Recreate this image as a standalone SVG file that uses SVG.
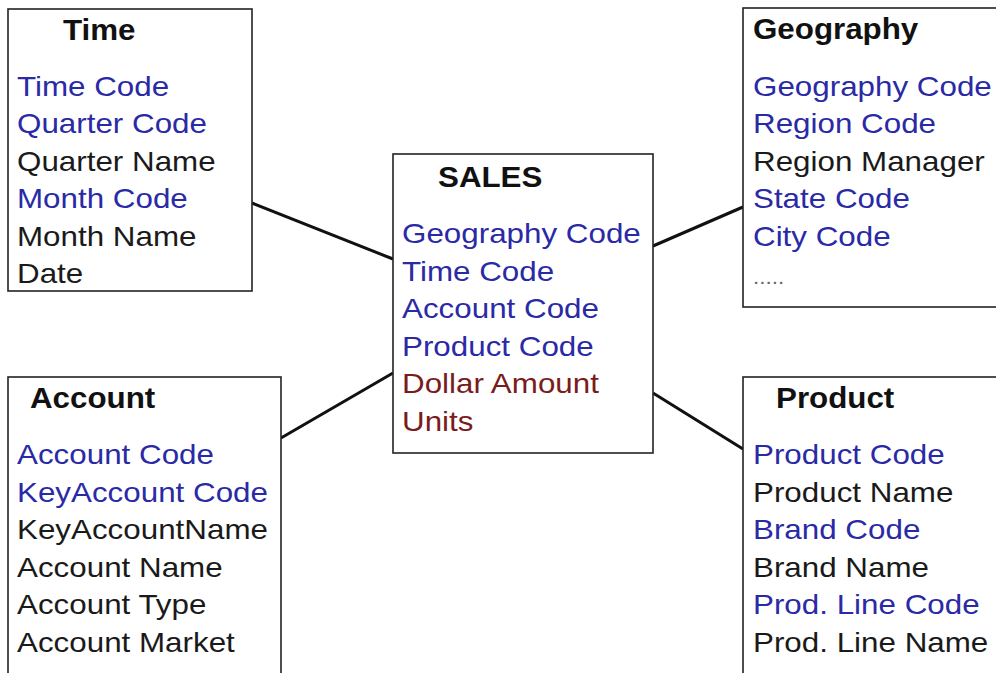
<svg xmlns="http://www.w3.org/2000/svg" width="996" height="673" viewBox="0 0 996 673">
<style>
.box{fill:#fff;stroke:#222;stroke-width:1.6}
.t{font-family:"Liberation Sans",Arial,sans-serif;font-weight:bold;font-size:29px;fill:#111}
.f{font-family:"Liberation Sans",Arial,sans-serif;font-size:28px}
.k{fill:#2a2aa6}
.n{fill:#1a1a1a}
.m{fill:#7a1c1c}
.conn line{stroke:#111;stroke-width:3}
</style>
<rect width="996" height="673" fill="#fff"/>
<g id="connectors" class="conn">
<line x1="252" y1="203" x2="393" y2="259"/>
<line x1="281" y1="438" x2="393" y2="373"/>
<line x1="653" y1="246" x2="743" y2="207"/>
<line x1="653" y1="393" x2="743" y2="449"/>
</g>
<g id="time">
<rect class="box" x="8" y="9" width="244" height="282"/>
<text class="t" transform="matrix(1.08 0 0 1 63 40)">Time</text>
<text class="f k" transform="matrix(1.12 0 0 1 17 96)">Time Code</text>
<text class="f k" transform="matrix(1.12 0 0 1 17 133)">Quarter Code</text>
<text class="f n" transform="matrix(1.12 0 0 1 17 171)">Quarter Name</text>
<text class="f k" transform="matrix(1.12 0 0 1 17 208)">Month Code</text>
<text class="f n" transform="matrix(1.12 0 0 1 17 246)">Month Name</text>
<text class="f n" transform="matrix(1.12 0 0 1 17 283)">Date</text>
</g>
<g id="sales">
<rect class="box" x="393" y="154" width="260" height="299"/>
<text class="t" transform="matrix(1.08 0 0 1 438 187)">SALES</text>
<text class="f k" transform="matrix(1.12 0 0 1 402 243)">Geography Code</text>
<text class="f k" transform="matrix(1.12 0 0 1 402 281)">Time Code</text>
<text class="f k" transform="matrix(1.12 0 0 1 402 318)">Account Code</text>
<text class="f k" transform="matrix(1.12 0 0 1 402 356)">Product Code</text>
<text class="f m" transform="matrix(1.12 0 0 1 402 393)">Dollar Amount</text>
<text class="f m" transform="matrix(1.12 0 0 1 402 431)">Units</text>
</g>
<g id="geography">
<rect class="box" x="743" y="8" width="270" height="299"/>
<text class="t" transform="matrix(1.08 0 0 1 753 39)">Geography</text>
<text class="f k" transform="matrix(1.12 0 0 1 753 96)">Geography Code</text>
<text class="f k" transform="matrix(1.12 0 0 1 753 133)">Region Code</text>
<text class="f n" transform="matrix(1.12 0 0 1 753 171)">Region Manager</text>
<text class="f k" transform="matrix(1.12 0 0 1 753 208)">State Code</text>
<text class="f k" transform="matrix(1.12 0 0 1 753 246)">City Code</text>
<text class="f" style="font-size:20px;fill:#666" transform="matrix(1.12 0 0 1 753 284)">.....</text>
</g>
<g id="account">
<rect class="box" x="8" y="377" width="273" height="320"/>
<text class="t" transform="matrix(1.08 0 0 1 30 408)">Account</text>
<text class="f k" transform="matrix(1.12 0 0 1 17 464)">Account Code</text>
<text class="f k" transform="matrix(1.12 0 0 1 17 502)">KeyAccount Code</text>
<text class="f n" transform="matrix(1.12 0 0 1 17 539)">KeyAccountName</text>
<text class="f n" transform="matrix(1.12 0 0 1 17 577)">Account Name</text>
<text class="f n" transform="matrix(1.12 0 0 1 17 614)">Account Type</text>
<text class="f n" transform="matrix(1.12 0 0 1 17 652)">Account Market</text>
</g>
<g id="product">
<rect class="box" x="743" y="377" width="270" height="320"/>
<text class="t" transform="matrix(1.08 0 0 1 776 408)">Product</text>
<text class="f k" transform="matrix(1.12 0 0 1 753 464)">Product Code</text>
<text class="f n" transform="matrix(1.12 0 0 1 753 502)">Product Name</text>
<text class="f k" transform="matrix(1.12 0 0 1 753 539)">Brand Code</text>
<text class="f n" transform="matrix(1.12 0 0 1 753 577)">Brand Name</text>
<text class="f k" transform="matrix(1.12 0 0 1 753 614)">Prod. Line Code</text>
<text class="f n" transform="matrix(1.12 0 0 1 753 652)">Prod. Line Name</text>
</g>
</svg>
